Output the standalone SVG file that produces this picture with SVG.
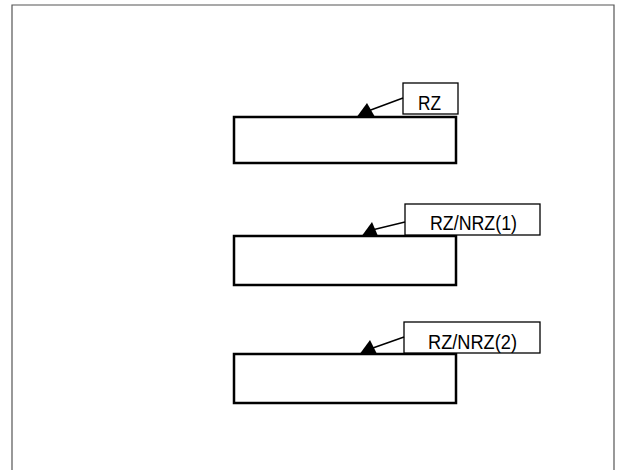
<svg xmlns="http://www.w3.org/2000/svg" width="618" height="470" viewBox="0 0 618 470">
<style>
.frame{fill:none;stroke:#555;stroke-width:1.2}
.box{fill:#fff;stroke:#000;stroke-width:2.5}
.lbl{fill:#fff;stroke:#000;stroke-width:1.3}
.txt{font-family:"Liberation Sans",Arial,sans-serif;font-size:20.5px;fill:#000}
.conn{stroke:#000;stroke-width:1.5;fill:none}
.head{fill:#000}
</style>
<rect width="618" height="470" fill="#fff"/>
<path class="frame" d="M12,470 V5 H614 V470"/>
<g id="node1">
<rect class="box" x="234" y="117" width="222" height="46"/>
<rect class="lbl" x="403" y="83" width="55" height="31"/>
<text class="txt" x="418" y="110" textLength="23" lengthAdjust="spacingAndGlyphs">RZ</text>
</g>
<g id="node2">
<rect class="box" x="234" y="236" width="222" height="49"/>
<rect class="lbl" x="405" y="204" width="135" height="31"/>
<text class="txt" x="430" y="230" textLength="87" lengthAdjust="spacingAndGlyphs">RZ/NRZ(1)</text>
</g>
<g id="node3">
<rect class="box" x="234" y="354" width="222" height="49"/>
<rect class="lbl" x="404" y="322" width="136" height="31"/>
<text class="txt" x="428" y="349" textLength="89" lengthAdjust="spacingAndGlyphs">RZ/NRZ(2)</text>
</g>
<g id="connectors">
<line class="conn" x1="403" y1="98" x2="368" y2="111"/>
<polygon class="head" points="356,118 367,103 375,117"/>
<line class="conn" x1="405" y1="222" x2="372" y2="230"/>
<polygon class="head" points="361,237 372,222 378,236"/>
<line class="conn" x1="404" y1="337" x2="370" y2="349"/>
<polygon class="head" points="359,355 370,340 377,354"/>
</g>
</svg>
